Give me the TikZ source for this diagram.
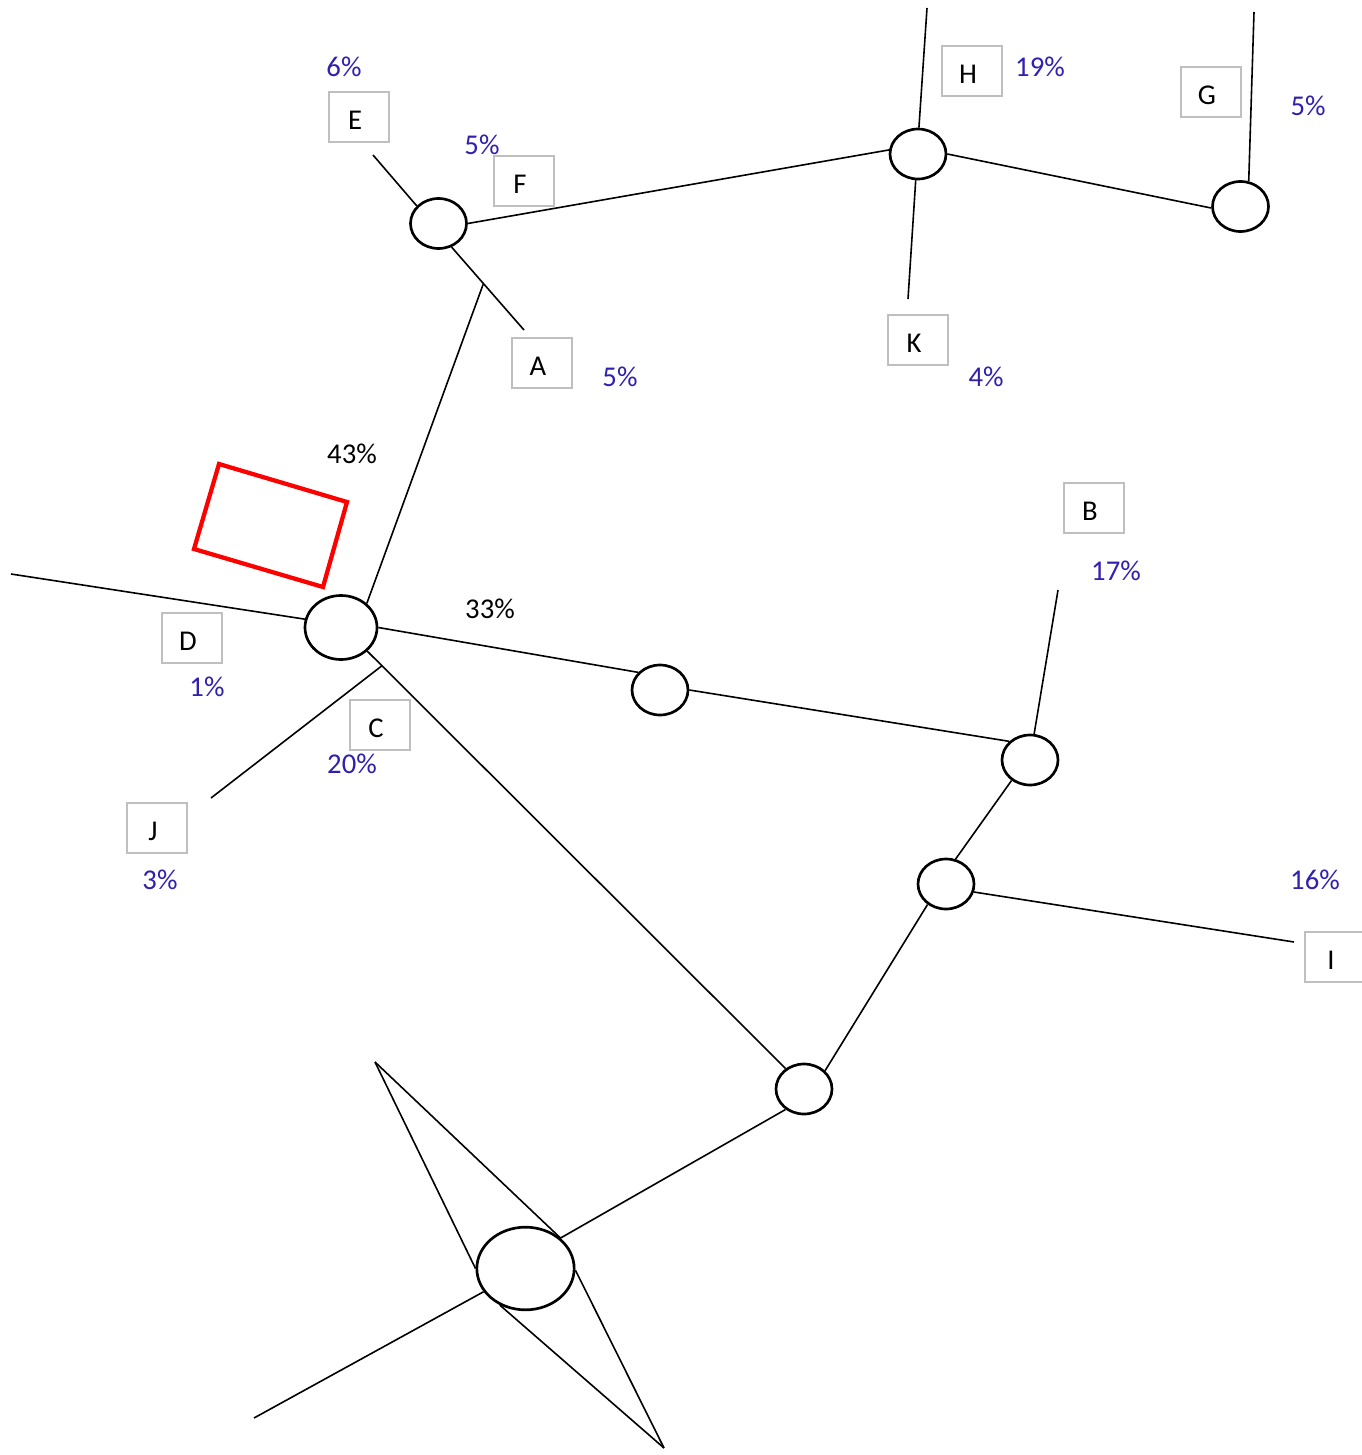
\documentclass[tikz,border=0pt]{standalone}
\usepackage{fontspec}
\setmainfont{Carlito}
\usetikzlibrary{shapes.geometric,calc}
\definecolor{pctblue}{RGB}{48,32,176}
\definecolor{boxgray}{RGB}{191,191,191}
\begin{document}
\begin{tikzpicture}[x=0.75pt,y=-0.75pt,
  hub/.style={draw=black,line width=2pt,ellipse,inner sep=0pt,fill=white,
              minimum width=42pt,minimum height=37.5pt},
  bighub/.style={hub,minimum width=54pt,minimum height=48pt},
  hugehub/.style={hub,minimum width=73pt,minimum height=62pt},
  lbl/.style={draw=boxgray,line width=1.5pt,rectangle,inner sep=0pt,
              minimum width=45pt,minimum height=37.5pt,
              text height=19pt,text depth=0pt,
              font=\fontsize{21.5}{26}\selectfont,
              execute at begin node={\hspace*{-6pt}}},
  pct/.style={inner sep=0pt,text=pctblue,font=\fontsize{21.5}{26}\selectfont},
  pctk/.style={pct,text=black},
  wire/.style={line width=1.2pt,black}]

\useasboundingbox (0,0) rectangle (1361,1455);

% junction ellipses
\node[hub] (n1) at (438.5,223.5) {};
\node[hub] (n2) at (918,154) {};
\node[hub] (n3) at (1240.5,206.5) {};
\node[bighub] (n4) at (341,627.5) {};
\node[hub] (n5) at (660,690) {};
\node[hub] (n6) at (1030,760) {};
\node[hub] (n7) at (946,884) {};
\node[hub] (n8) at (804,1089) {};
\node[hugehub] (n9) at (525.5,1268.5) {};

% free line ends
\coordinate (eE) at (373,155);
\coordinate (aA) at (524,330);
\coordinate (hUp) at (927,8);
\coordinate (kDn) at (908,299);
\coordinate (gUp) at (1254,12);
\coordinate (dL) at (11,574);
\coordinate (bUp) at (1058,590);
\coordinate (iR) at (1294,942);
\coordinate (jJ) at (211,798);
\coordinate (sT) at (375,1062);
\coordinate (sB) at (664,1448);
\coordinate (sL) at (254,1418);
\coordinate (jn) at ($(n1.-61)!0.44!(aA)$);
\coordinate (jc) at ($(n4.318)!0.035!(n8.132)$);

% connectors
\begin{scope}[wire]
\draw (n1.141) -- (eE);
\draw (n1.-61) -- (aA);
\draw (n4.43) -- (jn);
\draw (n1.0) -- (n2.172);
\draw (n2.88) -- (hUp);
\draw (n2.265) -- (kDn);
\draw (n2.0) -- (n3.183);
\draw (n3.72) -- (gUp);
\draw (dL) -- (n4.167);
\draw (n4.0) -- (n5.141);
\draw (n5.0) -- (n6.138);
\draw (n6.81) -- (bUp);
\draw (n6.228) -- (n7.69);
\draw (n7.-16) -- (iR);
\draw (n7.228) -- (n8.41);
\draw (n4.318) -- (n8.132);
\draw (jc) -- (jJ);
\draw (n8.228) -- (n9.41);
\draw (sT) -- (n9.41);
\draw (sT) -- (n9.180);
\draw (n9.235) -- (sB);
\draw (n9.358) -- (sB);
\draw (n9.209) -- (sL);
\end{scope}

% red frame
\coordinate (r1) at (219,464);
\coordinate (r2) at (347,502);
\coordinate (r3) at (323,587);
\coordinate (r4) at (194,549);
\draw[red,line width=3.2pt,line join=miter] (r1) -- (r2) -- (r3) -- (r4) -- cycle;

% letter boxes
\node[lbl] (E) at (359,117) {E};
\node[lbl] (F) at (524,181) {F};
\node[lbl] (A) at (542,363) {A};
\node[lbl] (H) at (972,71) {H};
\node[lbl] (G) at (1211,92) {G};
\node[lbl] (K) at (918,340) {K};
\node[lbl] (B) at (1094,508) {B};
\node[lbl] (I) at (1335,957) {I};
\node[lbl] (D) at (192,638) {D};
\node[lbl] (C) at (380,725) {C};
\node[lbl] (J) at (157,828) {J};

% shares
\node[pct] (pE) at (344,67) {6\%};
\node[pct] (pF) at (482,145) {5\%};
\node[pct] (pA) at (620,377) {5\%};
\node[pct] (pH) at (1040,67) {19\%};
\node[pct] (pG) at (1308,106) {5\%};
\node[pct] (pK) at (986,377) {4\%};
\node[pct] (pB) at (1116,571) {17\%};
\node[pct] (pD) at (207,687) {1\%};
\node[pct] (pC) at (352,764) {20\%};
\node[pct] (pJ) at (160,880) {3\%};
\node[pct] (pI) at (1315,880) {16\%};
\node[pctk] (p43) at (352,454) {43\%};
\node[pctk] (p33) at (490,609) {33\%};
\end{tikzpicture}
\end{document}
